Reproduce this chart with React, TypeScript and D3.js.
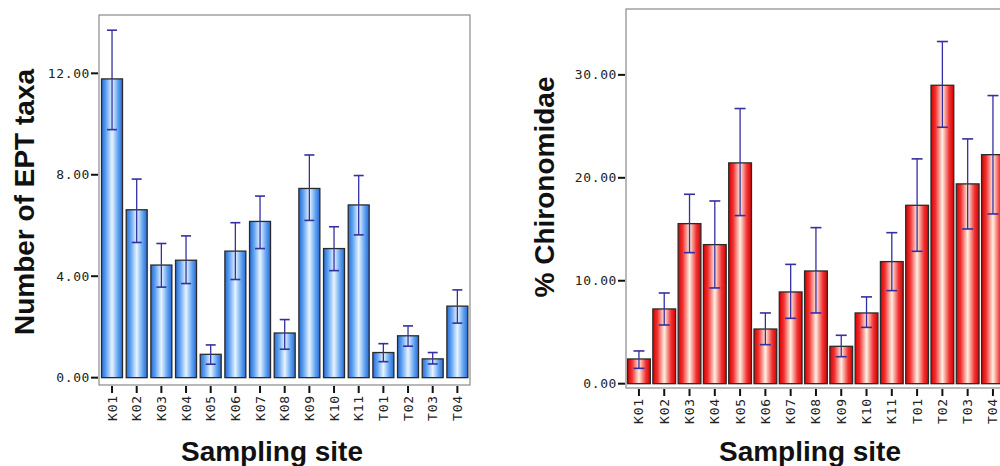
import React from 'react'
import * as d3 from 'd3'

// sampling sites, shared by both panels
const sites = ['K01', 'K02', 'K03', 'K04', 'K05', 'K06', 'K07', 'K08', 'K09', 'K10', 'K11', 'T01', 'T02', 'T03', 'T04']

// number of EPT taxa: mean and error bar ends
const eptMean = [11.78, 6.62, 4.44, 4.63, 0.92, 4.99, 6.16, 1.76, 7.46, 5.09, 6.81, 0.99, 1.65, 0.74, 2.82]
const eptLow = [9.78, 5.33, 3.57, 3.71, 0.53, 3.87, 5.09, 1.12, 6.2, 4.22, 5.63, 0.63, 1.24, 0.54, 2.15]
const eptHigh = [13.7, 7.83, 5.29, 5.59, 1.29, 6.11, 7.16, 2.29, 8.78, 5.95, 7.97, 1.34, 2.04, 0.99, 3.46]
const eptTicks = [0, 4, 8, 12]

// % Chironomidae: mean and error bar ends
const chiroMean = [2.4, 7.26, 15.55, 13.51, 21.45, 5.31, 8.91, 10.95, 3.63, 6.87, 11.86, 17.33, 28.99, 19.41, 22.25]
const chiroLow = [1.49, 5.7, 12.73, 9.3, 16.33, 3.79, 6.35, 6.87, 2.62, 5.47, 9.04, 12.86, 24.91, 15.03, 16.49]
const chiroHigh = [3.18, 8.81, 18.4, 17.75, 26.73, 6.87, 11.59, 15.16, 4.7, 8.43, 14.67, 21.84, 33.24, 23.78, 27.99]
const chiroTicks = [0, 10, 20, 30]

const tickFont = '"DejaVu Sans Mono", monospace'
const titleFont = '"Liberation Sans", Arial, sans-serif'
const errColor = '#34309f'

type PanelProps = {
  id: string
  mean: number[]
  low: number[]
  high: number[]
  ticks: number[]
  domain: [number, number]
  frame: { left: number; top: number; right: number; bottom: number }
  band: [number, number]
  padding: number
  cap: number
  yTitle: string
  yTitleX: number
  yTitleY: number
  xTitleX: number
  colors: string[]
}

function Panel(p: PanelProps) {
  const { frame } = p
  const x = d3.scaleBand<string>().domain(sites).range(p.band).paddingInner(p.padding).paddingOuter(p.padding / 2)
  const y = d3.scaleLinear().domain(p.domain).range([frame.bottom, frame.top])
  const bw = x.bandwidth()
  const gradId = 'grad-' + p.id

  return (
    <g>
      <defs>
        <linearGradient id={gradId} x1="0" x2="1" y1="0" y2="0">
          <stop offset="0" stopColor={p.colors[0]} />
          <stop offset="0.2" stopColor={p.colors[1]} />
          <stop offset="0.5" stopColor={p.colors[2]} />
          <stop offset="0.8" stopColor={p.colors[1]} />
          <stop offset="1" stopColor={p.colors[0]} />
        </linearGradient>
      </defs>
      <rect x={frame.left} y={frame.top} width={frame.right - frame.left} height={frame.bottom - frame.top}
        fill="#fff" stroke="#8a8a8a" strokeWidth={1.2} />
      {sites.map((s, i) => {
        const x0 = x(s) as number
        const cx = x0 + bw / 2
        return (
          <g key={s}>
            <rect x={x0} y={y(p.mean[i])} width={bw} height={y(0) - y(p.mean[i])}
              fill={`url(#${gradId})`} stroke="#2a2a2a" strokeWidth={1.3} />
            <line x1={cx} x2={cx} y1={y(p.low[i])} y2={y(p.high[i])} stroke={errColor} strokeWidth={1.3} />
            <line x1={cx - p.cap / 2} x2={cx + p.cap / 2} y1={y(p.high[i])} y2={y(p.high[i])} stroke={errColor} strokeWidth={1.6} />
            <line x1={cx - p.cap / 2} x2={cx + p.cap / 2} y1={y(p.low[i])} y2={y(p.low[i])} stroke={errColor} strokeWidth={1.6} />
            <line x1={cx} x2={cx} y1={frame.bottom + 1} y2={frame.bottom + 8} stroke="#111" strokeWidth={2} />
            <text transform={`translate(${cx + 4.5},${frame.bottom + 10}) rotate(-90)`} textAnchor="end"
              fontFamily={tickFont} fontSize={13} letterSpacing={0.8} fill="#222">{s}</text>
          </g>
        )
      })}
      {p.ticks.map(t => (
        <g key={t}>
          <line x1={frame.left - 8} x2={frame.left - 1} y1={y(t)} y2={y(t)} stroke="#111" strokeWidth={2} />
          <text x={frame.left - 9} y={y(t) + 4.5} textAnchor="end" fontFamily={tickFont} fontSize={13}
            letterSpacing={0.6} fill="#222">
            {d3.format('.2f')(t)}
          </text>
        </g>
      ))}
      <text transform={`translate(${p.yTitleX},${p.yTitleY}) rotate(-90)`} textAnchor="middle"
        fontFamily={titleFont} fontWeight="bold" fontSize={28} fill="#111">{p.yTitle}</text>
      <text x={p.xTitleX} y={461} textAnchor="middle" fontFamily={titleFont} fontWeight="bold" fontSize={28} fill="#111">
        Sampling site
      </text>
    </g>
  )
}

export default function App() {
  return (
    <div style={{ position: 'fixed', left: 0, top: 0 }}>
      <svg width={1000} height={466} style={{ display: 'block', background: '#fff' }}>
        <Panel id="ept" mean={eptMean} low={eptLow} high={eptHigh} ticks={eptTicks} domain={[-0.29, 14.3]}
          frame={{ left: 99, top: 15, right: 470, bottom: 385 }} band={[99.7, 469.7]} padding={0.15} cap={10}
          yTitle="Number of EPT taxa" yTitleX={34} yTitleY={202} xTitleX={272}
          colors={['#2a6ad6', '#5a9ff0', '#e8f4ff']} />
        <Panel id="chiro" mean={chiroMean} low={chiroLow} high={chiroHigh} ticks={chiroTicks} domain={[-0.42, 36.4]}
          frame={{ left: 626, top: 9, right: 1008, bottom: 388 }} band={[626.3, 1005.6]} padding={0.1} cap={11}
          yTitle="% Chironomidae" yTitleX={554} yTitleY={187} xTitleX={810}
          colors={['#d80000', '#f03232', '#fff0e2']} />
      </svg>
    </div>
  )
}
